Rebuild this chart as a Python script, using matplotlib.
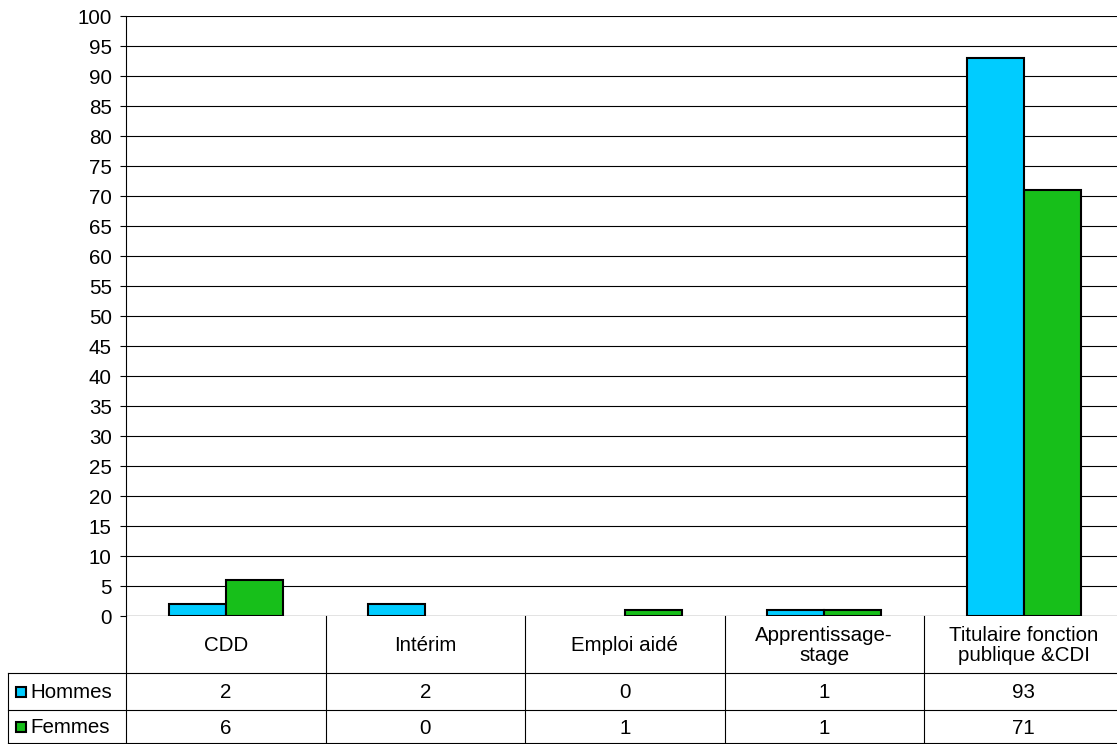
import matplotlib
matplotlib.use("Agg")
import matplotlib.pyplot as plt
import numpy as np

categories = ["CDD", "Intérim", "Emploi aidé", "Apprentissage-\nstage", "Titulaire fonction\npublique &CDI"]
series_names = ["Hommes", "Femmes"]
hommes = [2, 2, 0, 1, 93]
femmes = [6, 0, 1, 1, 71]
yticks = list(range(0, 101, 5))
colors = ["#00CCFF", "#17BF1A"]

plt.rcParams['font.family'] = ['Liberation Sans', 'DejaVu Sans']
FS = 14.8

W, H = 1117, 744
fig = plt.figure(figsize=(W / 100, H / 100), dpi=100)

def fx(px):
    return px / W

def fy(py):
    return 1 - py / H

n = len(categories)
left, top, bottom = 126, 16, 616
col_w = 199.5
right = left + n * col_w
ax = fig.add_axes([fx(left), fy(bottom), fx(right - left), fy(top) - fy(bottom)])

x = np.arange(n)
bw = 0.286
for vals, off, col in [(hommes, -bw / 2, colors[0]), (femmes, bw / 2, colors[1])]:
    lws = [1.5 if v != 0 else 0 for v in vals]
    ax.bar(x + off, vals, bw, color=col, edgecolor="black", linewidth=lws, zorder=3)

ax.set_xlim(-0.5, n - 0.5)
ax.set_ylim(0, 100)
ax.set_yticks(yticks)
ax.set_yticklabels([str(t) for t in yticks], fontsize=FS)
ax.yaxis.grid(True, color="black", linewidth=0.8, zorder=0)
ax.set_xticks([])
for s in ["top", "right", "bottom"]:
    ax.spines[s].set_visible(False)
ax.spines["left"].set_linewidth(0.8)
ax.axhline(0, color="black", linewidth=0.8, zorder=4)
ax.tick_params(axis="y", length=4.3, width=0.8, pad=6)

row_y = [616, 673, 710, 743]
lc = "black"
lw = 0.8

def hline(y, x0, x1):
    fig.add_artist(plt.Line2D([fx(x0), fx(x1)], [fy(y), fy(y)], color=lc, linewidth=lw))

def vline(xp, y0, y1):
    fig.add_artist(plt.Line2D([fx(xp), fx(xp)], [fy(y0), fy(y1)], color=lc, linewidth=lw))

vline(left, bottom, row_y[-1])
vline(8, row_y[1], row_y[-1])
for i in range(1, n):
    vline(left + i * col_w, bottom, row_y[-1])
hline(row_y[1], 8, W)
hline(row_y[2], 8, W)
hline(row_y[3], 8, W)

for i, c in enumerate(categories):
    cx = left + (i + 0.5) * col_w
    fig.text(fx(cx), fy((row_y[0] + row_y[1]) / 2 + 1), c, ha="center", va="center", fontsize=FS, linespacing=1.12)
    fig.text(fx(cx), fy((row_y[1] + row_y[2]) / 2 + 1), str(hommes[i]), ha="center", va="center", fontsize=FS)
    fig.text(fx(cx), fy((row_y[2] + row_y[3]) / 2 + 1.5), str(femmes[i]), ha="center", va="center", fontsize=FS)

for r, (name, col) in enumerate(zip(series_names, colors)):
    yc = (row_y[r + 1] + row_y[r + 2]) / 2
    fig.add_artist(plt.Rectangle((fx(16), fy(yc + 5)), fx(10), fy(yc - 5) - fy(yc + 5),
                                 facecolor=col, edgecolor="black", linewidth=1.5))
    fig.text(fx(30), fy(yc + 1), name, ha="left", va="center", fontsize=FS)

fig.savefig("out.png", dpi=100)
